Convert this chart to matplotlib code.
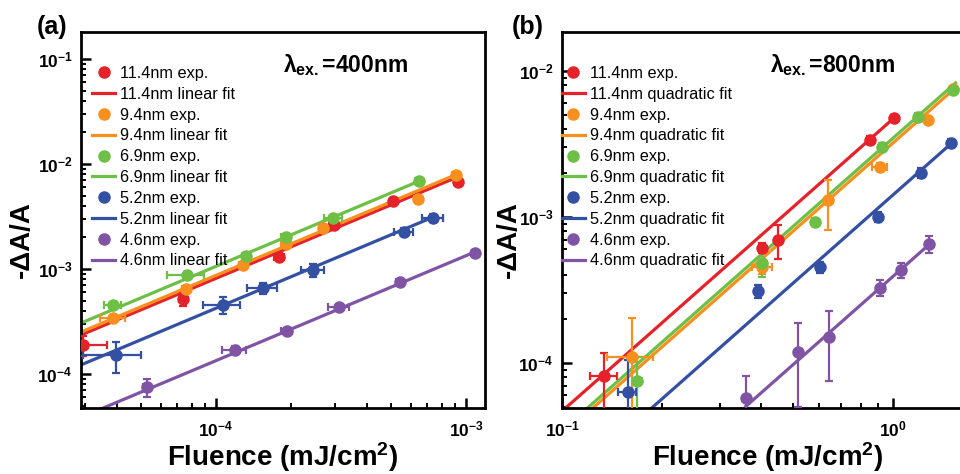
import numpy as np
import matplotlib
matplotlib.use("Agg")
import matplotlib.pyplot as plt

plt.rcParams['font.family'] = ['Liberation Sans', 'DejaVu Sans']
plt.rcParams['mathtext.fontset'] = 'custom'
plt.rcParams['mathtext.rm'] = 'Liberation Sans:bold'
plt.rcParams['mathtext.bf'] = 'Liberation Sans:bold'
plt.rcParams['mathtext.it'] = 'Liberation Sans:bold'
plt.rcParams['mathtext.default'] = 'bf'

# ---------------- data ----------------
sizes = ["11.4nm", "9.4nm", "6.9nm", "5.2nm", "4.6nm"]
colors = ["#e52229", "#f7901e", "#6dbf45", "#3450a2", "#8054a4"]

# panel (a): 400 nm excitation
a_x = [
    [2.94e-5, 7.38e-5, 1.79e-4, 2.96e-4, 5.1e-4, 9.29e-4],
    [3.87e-5, 7.59e-5, 1.28e-4, 1.9e-4, 2.68e-4, 6.43e-4, 9.12e-4],
    [3.87e-5, 7.65e-5, 1.32e-4, 1.9e-4, 2.94e-4, 6.48e-4],
    [3.98e-5, 1.07e-4, 1.54e-4, 2.44e-4, 5.65e-4, 7.38e-4],
    [5.3e-5, 1.19e-4, 1.92e-4, 3.1e-4, 5.45e-4, 1.09e-3],
]
a_y = [
    [1.89e-4, 5.18e-4, 1.30e-3, 2.62e-3, 4.45e-3, 6.74e-3],
    [3.41e-4, 6.45e-4, 1.09e-3, 1.73e-3, 2.45e-3, 4.64e-3, 7.85e-3],
    [4.54e-4, 8.77e-4, 1.33e-3, 2.02e-3, 3.06e-3, 6.89e-3],
    [1.52e-4, 4.54e-4, 6.59e-4, 9.78e-4, 2.25e-3, 3.06e-3],
    [7.52e-5, 1.69e-4, 2.57e-4, 4.35e-4, 7.52e-4, 1.42e-3],
]
a_xerr = [
    [0.72e-5, 0.3e-5, 0.8e-5, 1.2e-5, 1.5e-5, 2.5e-5],
    [0.45e-5, 0.3e-5, 0.5e-5, 0.8e-5, 1.0e-5, 2.5e-5, 3e-5],
    [0.3e-5, 1.3e-5, 0.5e-5, 0.8e-5, 2.5e-5, 2.5e-5],
    [1.05e-5, 1.8e-5, 2.05e-5, 2.6e-5, 5e-5, 7e-5],
    [0.2e-5, 1.3e-5, 1.0e-5, 2.9e-5, 2e-5, 3e-5],
]
a_yerr = [
    [0.4e-4, 0.7e-4, 0.8e-4, 1.5e-4, 2.5e-4, 4e-4],
    [0.2e-4, 0.4e-4, 0.6e-4, 1e-4, 1.3e-4, 2.5e-4, 4e-4],
    [0.3e-4, 0.5e-4, 0.8e-4, 1.2e-4, 2e-4, 4e-4],
    [0.49e-4, 0.84e-4, 0.8e-4, 1.3e-4, 2e-4, 2.5e-4],
    [1.5e-5, 0.15e-4, 0.2e-4, 0.3e-4, 0.5e-4, 1e-4],
]
# linear fits  y = k * x
a_fit_k = [8.15, 8.7, 10.6, 4.23, 1.34]
a_fit_range = [(2.8e-5, 9.3e-4), (2.8e-5, 9.1e-4), (2.8e-5, 6.5e-4),
               (2.8e-5, 7.4e-4), (3.0e-5, 1.09e-3)]

# panel (b): 800 nm excitation
b_x = [
    [0.134, 0.404, 0.45, 0.853, 1.01],
    [0.163, 0.404, 0.637, 0.914, 1.28, 1.52],
    [0.169, 0.404, 0.581, 0.927, 1.19, 1.52],
    [0.158, 0.391, 0.601, 0.902, 1.22, 1.5],
    [0.36, 0.516, 0.641, 0.914, 1.06, 1.29],
]
b_y = [
    [8.15e-5, 6.13e-4, 6.95e-4, 3.37e-3, 4.77e-3],
    [1.1e-4, 4.55e-4, 1.31e-3, 2.2e-3, 4.62e-3, 7.54e-3],
    [7.53e-5, 4.84e-4, 9.24e-4, 3.01e-3, 4.84e-3, 7.41e-3],
    [6.32e-5, 3.11e-4, 4.55e-4, 1.0e-3, 2.0e-3, 3.21e-3],
    [5.75e-5, 1.19e-4, 1.51e-4, 3.27e-4, 4.34e-4, 6.53e-4],
]
b_xerr = [
    [0.0125, 0.005, 0.005, 0.01, 0.01],
    [0.026, 0.028, 0.01, 0.048, 0.02, 0.02],
    [0.005, 0.01, 0.01, 0.01, 0.02, 0.02],
    [0.01, 0.005, 0.01, 0.01, 0.015, 0.02],
    [0.005, 0.005, 0.005, 0.01, 0.01, 0.01],
]
b_yerr = [
    [3.5e-5, 0.5e-4, 1.8e-4, 2e-4, 2.5e-4],
    [0.93e-4, 0.5e-4, 4.9e-4, 1.5e-4, 3e-4, 4e-4],
    [3.5e-5, 0.95e-4, 0.6e-4, 2e-4, 3e-4, 4e-4],
    [4.2e-5, 3.2e-5, 0.4e-4, 0.8e-4, 1.5e-4, 2e-4],
    [2.4e-5, 6.9e-5, 7.6e-5, 0.41e-4, 0.5e-4, 0.88e-4],
]
# quadratic fits  y = k * x^2
b_fit_k = [4.68e-3, 3.2e-3, 3.45e-3, 1.41e-3, 3.9e-4]
b_fit_range = [(0.1, 1.01), (0.11, 1.55), (0.11, 1.55), (0.15, 1.5), (0.36, 1.29)]

a_xticks = [1e-4, 1e-3]
a_xticklabels = [r'$10^{-4}$', r'$10^{-3}$']
a_yticks = [1e-4, 1e-3, 1e-2, 1e-1]
a_yticklabels = [r'$10^{-4}$', r'$10^{-3}$', r'$10^{-2}$', r'$10^{-1}$']
b_xticks = [1e-1, 1e0]
b_xticklabels = [r'$10^{-1}$', r'$10^{0}$']
b_yticks = [1e-4, 1e-3, 1e-2]
b_yticklabels = [r'$10^{-4}$', r'$10^{-3}$', r'$10^{-2}$']

# ---------------- figure ----------------
W, H = 960, 474
fig = plt.figure(figsize=(W / 100, H / 100), dpi=100)

def px_axes(l, r, t, b):
    return [l / W, 1 - b / H, (r - l) / W, (b - t) / H]

axA = fig.add_axes(px_axes(81, 485, 32, 408))
axB = fig.add_axes(px_axes(562, 973, 32, 408))


def draw(ax, xs, ys, xe, ye, ks, rngs, power, fitname):
    handles = []
    for i in range(len(sizes)):
        c = colors[i]
        x = np.array(xs[i]); y = np.array(ys[i])
        lo, hi = rngs[i]
        xf = np.logspace(np.log10(lo), np.log10(hi), 50)
        fl, = ax.plot(xf, ks[i] * xf ** power, color=c, lw=2.3, zorder=2,
                      label=f"{sizes[i]} {fitname} fit")
        ax.errorbar(x, y, xerr=xe[i], yerr=ye[i], fmt='none', ecolor=c,
                    elinewidth=1.6, capsize=3, capthick=1.6, zorder=3)
        pt, = ax.plot(x, y, 'o', ms=8, mfc=c, mec=c, zorder=4,
                      label=f"{sizes[i]} exp.")
        handles += [pt, fl]
    return handles


hA = draw(axA, a_x, a_y, a_xerr, a_yerr, a_fit_k, a_fit_range, 1, "linear")
hB = draw(axB, b_x, b_y, b_xerr, b_yerr, b_fit_k, b_fit_range, 2, "quadratic")

axA.set_xscale('log'); axA.set_yscale('log')
axB.set_xscale('log'); axB.set_yscale('log')
axA.set_xlim(2.884e-5, 1.19e-3); axA.set_ylim(4.74e-5, 0.181)
axB.set_xlim(0.1, 1.75); axB.set_ylim(4.92e-5, 0.0185)

for ax, xt, xtl, yt, ytl in [(axA, a_xticks, a_xticklabels, a_yticks, a_yticklabels),
                             (axB, b_xticks, b_xticklabels, b_yticks, b_yticklabels)]:
    ax.set_xticks(xt); ax.set_xticklabels(xtl)
    ax.set_yticks(yt); ax.set_yticklabels(ytl)
    ax.tick_params(which='major', direction='in', length=7, width=1.8,
                   labelsize=12.5, pad=6, top=False, right=False)
    ax.tick_params(which='minor', direction='in', length=3.5, width=1.4,
                   top=False, right=False)
    ax.tick_params(axis='x', which='major', pad=8)
    for s in ax.spines.values():
        s.set_linewidth(2.0)
    ax.set_xlabel('Fluence (mJ/cm$^{2}$)', fontsize=20, fontweight='bold')
    ax.set_ylabel('-\u0394A/A', fontsize=20, fontweight='bold')
    ax.xaxis.set_label_coords(0.5, -0.085)

axA.yaxis.set_label_coords(-0.114, 0.447)
axB.yaxis.set_label_coords(-0.097, 0.447)

leg_kw = dict(loc='upper left', frameon=False, fontsize=11.7, handlelength=1.4,
              handletextpad=0.3, labelspacing=0.36, borderaxespad=0, borderpad=0)
axA.legend(handles=hA, bbox_to_anchor=(0.028, 0.91), **leg_kw)
axB.legend(handles=hB, bbox_to_anchor=(0.0, 0.91), **leg_kw)

axA.text(0.5, 0.912, r'$\lambda_{ex.}$=400nm', transform=axA.transAxes,
         fontsize=16.5, fontweight='bold', va='center', ha='left')
axB.text(0.506, 0.912, r'$\lambda_{ex.}$=800nm', transform=axB.transAxes,
         fontsize=16.5, fontweight='bold', va='center', ha='left')

fig.text(37 / W, 1 - 27 / H, '(a)', fontsize=18, fontweight='bold', va='center')
fig.text(512 / W, 1 - 27 / H, '(b)', fontsize=18, fontweight='bold', va='center')

fig.savefig('out.png', dpi=100)
